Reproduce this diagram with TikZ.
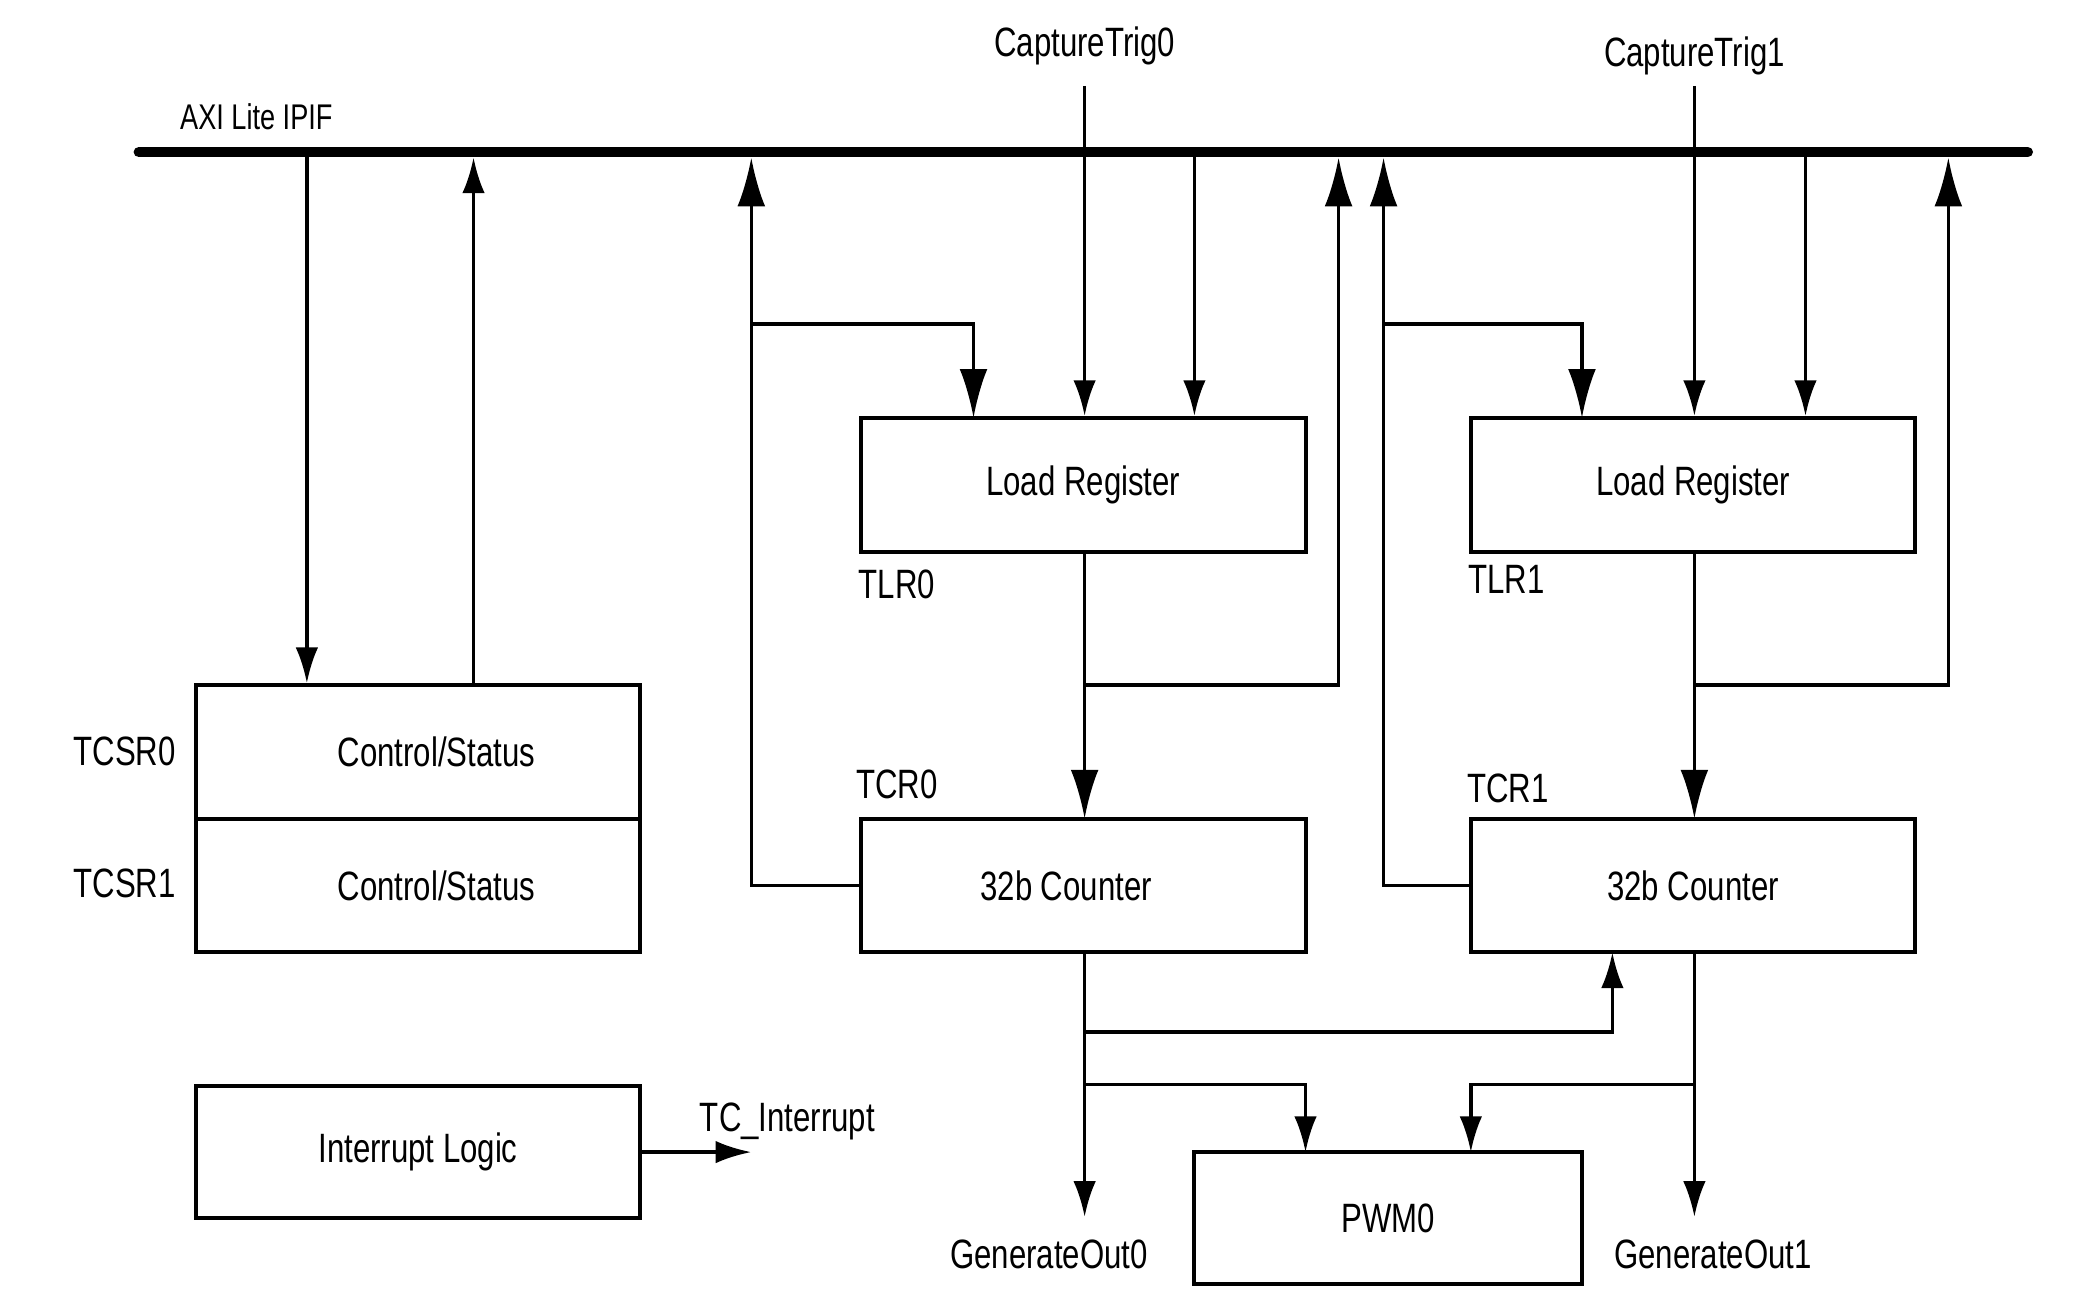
\documentclass[tikz,border=0pt]{standalone}
\usepackage{fontspec}
\setmainfont{Liberation Sans}[FakeStretch=0.76]
\usetikzlibrary{arrows.meta}
\begin{document}
\begin{tikzpicture}[x=1pt,y=-1pt,
  box/.style={draw,line width=3pt,minimum width=336pt,minimum height=101pt,inner sep=0pt,
    font=\fontsize{31}{35}\selectfont},
  lbl/.style={inner sep=0pt,font=\fontsize{31}{35}\selectfont},
  wire/.style={line width=2.7pt},
  big/.style={wire,-{Latex[length=37pt,width=21pt]}},
  small/.style={wire,-{Latex[length=27pt,width=17pt]}}]
\useasboundingbox (0,0) rectangle (1568,994);
% bus
\coordinate (busL) at (105,115);
\coordinate (busR) at (1533,115);
\draw[line width=8pt,line cap=round] (busL) -- (busR);
\node[lbl,anchor=west,font=\fontsize{27}{31}\selectfont] (axi) at (136,88) {AXI Lite IPIF};
% boxes
\node[box] (cs0) at (316,568.5) {\hspace*{28pt}Control/Status};
\node[box] (cs1) at (316,669.5) {\hspace*{28pt}Control/Status};
\node[box] (lr0) at (819,366.5) {Load Register};
\node[box] (lr1) at (1280,366.5) {Load Register};
\node[box] (cnt0) at (819,669.5) {32b Counter\hspace*{26pt}};
\node[box] (cnt1) at (1280,669.5) {32b Counter};
\node[box,minimum height=100pt] (intr) at (316,871) {Interrupt Logic};
\node[box,minimum width=293pt,minimum height=100pt] (pwm) at (1049.5,921) {PWM0};
% labels
\node[lbl] (ct0) at (820,35) {CaptureTrig0};
\node[lbl] (ct1) at (1281,42) {CaptureTrig1};
\node[lbl,anchor=east] (tcsr0) at (133,568) {TCSR0};
\node[lbl,anchor=east] (tcsr1) at (133,668) {TCSR1};
\node[lbl,anchor=west] (tlr0) at (649,442) {TLR0};
\node[lbl,anchor=west] (tlr1) at (1110,438) {TLR1};
\node[lbl,anchor=west] (tcr0) at (647,593) {TCR0};
\node[lbl,anchor=west] (tcr1) at (1109,596) {TCR1};
\node[lbl,anchor=west] (tci) at (529,848) {TC\_Interrupt};
\node[lbl] (go0) at (793,948) {GenerateOut0};
\node[lbl] (go1) at (1295,948) {GenerateOut1};
% coordinates on bus
\coordinate (b232) at (232,115);
\coordinate (b358) at (358,119);
\coordinate (b568) at (568,119);
\coordinate (b903) at (903,115);
\coordinate (b1012) at (1012,119);
\coordinate (b1046) at (1046,119);
\coordinate (b1365) at (1365,115);
\coordinate (b1473) at (1473,119);
\coordinate (c0top) at (820,65);
\coordinate (c1top) at (1281,65);
\coordinate (g0) at (820,920);
\coordinate (g1) at (1281,920);
\coordinate (tcend) at (568,871);
% control/status
\draw[small] (b232) -- (b232 |- cs0.north);
\draw[small] (b358 |- cs0.north) -- (b358);
% timer 0
\draw[big] (cnt0.west) -- (568,669.5) -- (b568);
\draw[big] (568,245) -- (736,245) -- (736,316);
\draw[small] (c0top) -- (c0top |- lr0.north);
\draw[small] (b903) -- (b903 |- lr0.north);
\draw[big] (820,417) -- (820,619);
\draw[big] (820,518) -- (1012,518) -- (b1012);
\draw[small] (820,720) -- (g0);
\draw[small] (820,780) -- (1219,780) -- (1219,720);
\draw[small] (820,820) -- (987,820) -- (987,871);
% timer 1
\draw[big] (cnt1.west) -- (1046,669.5) -- (b1046);
\draw[big] (1046,245) -- (1196,245) -- (1196,316);
\draw[small] (c1top) -- (c1top |- lr1.north);
\draw[small] (b1365) -- (b1365 |- lr1.north);
\draw[big] (1281,417) -- (1281,619);
\draw[big] (1281,518) -- (1473,518) -- (b1473);
\draw[small] (1281,720) -- (g1);
\draw[small] (1281,820) -- (1112,820) -- (1112,871);
% interrupt
\draw[small] (intr.east) -- (tcend);
\end{tikzpicture}
\end{document}
